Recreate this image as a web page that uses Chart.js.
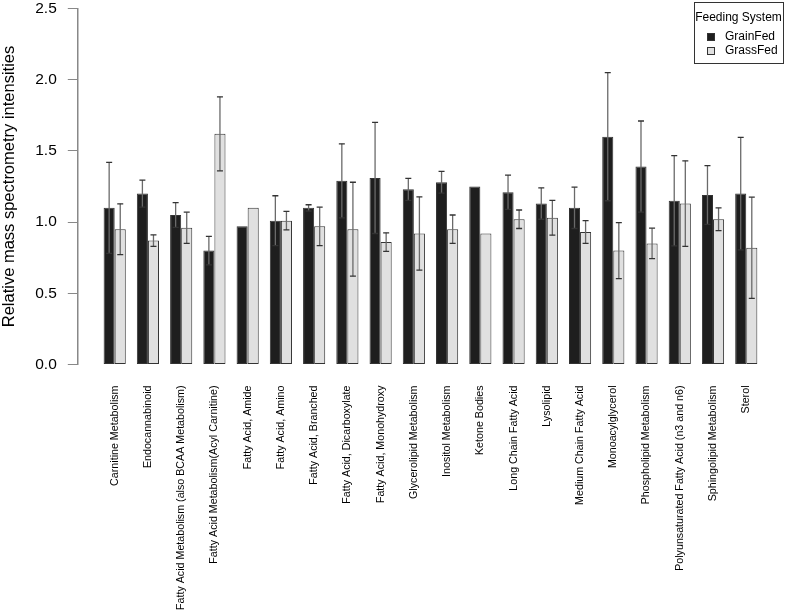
<!DOCTYPE html>
<html>
<head>
<meta charset="utf-8">
<script src="https://cdn.jsdelivr.net/npm/chart.js@4.4.1/dist/chart.umd.min.js"></script>
<style>
  html, body { margin: 0; padding: 0; background: #fff; }
  #wrap { width: 787px; height: 613px; }
</style>
</head>
<body>
<div id="wrap"><canvas id="grafico" width="787" height="613"></canvas></div>
<script>
const categorias = [
  "Carnitine Metabolism",
  "Endocannabinoid",
  "Fatty Acid Metabolism (also BCAA Metabolism)",
  "Fatty Acid Metabolism(Acyl Carnitine)",
  "Fatty Acid, Amide",
  "Fatty Acid, Amino",
  "Fatty Acid, Branched",
  "Fatty Acid, Dicarboxylate",
  "Fatty Acid, Monohydroxy",
  "Glycerolipid Metabolism",
  "Inositol Metabolism",
  "Ketone Bodies",
  "Long Chain Fatty Acid",
  "Lysolipid",
  "Medium Chain Fatty Acid",
  "Monoacylglycerol",
  "Phospholipid Metabolism",
  "Polyunsaturated Fatty Acid (n3 and n6)",
  "Sphingolipid Metabolism",
  "Sterol",
];

const grainFed = [1.10, 1.20, 1.05, 0.80, 0.97, 1.01, 1.10, 1.29, 1.31, 1.23,
                  1.28, 1.25, 1.21, 1.13, 1.10, 1.60, 1.39, 1.15, 1.19, 1.20];
const grainFedErro = [0.32, 0.095, 0.087, 0.10, null, 0.175, 0.022, 0.26, 0.39, 0.077,
                      0.076, null, 0.12, 0.11, 0.145, 0.45, 0.32, 0.317, 0.206, 0.395];

const grassFed = [0.95, 0.87, 0.96, 1.62, 1.10, 1.01, 0.97, 0.95, 0.86, 0.92,
                  0.95, 0.92, 1.02, 1.03, 0.93, 0.80, 0.85, 1.13, 1.02, 0.82];
const grassFedErro = [0.178, 0.04, 0.11, 0.26, null, 0.065, 0.135, 0.33, 0.065, 0.257,
                      0.10, null, 0.065, 0.122, 0.08, 0.197, 0.107, 0.30, 0.08, 0.355];

const yTicks = [0, 0.5, 1.0, 1.5, 2.0, 2.5];

const fonte = "'Liberation Sans', Arial, Helvetica, sans-serif";

// barras de erro (media +- erro padrao)
const pluginErro = {
  id: "barrasErro",
  afterDatasetsDraw(chart) {
    const ctx = chart.ctx;
    const y = chart.scales.y;
    chart.data.datasets.forEach((ds, di) => {
      const meta = chart.getDatasetMeta(di);
      meta.data.forEach((bar, i) => {
        const e = ds.erro[i];
        if (e == null) return;
        const v = ds.data[i].y;
        const yTop = y.getPixelForValue(v + e);
        const yBot = y.getPixelForValue(v - e);
        ctx.save();
        ctx.strokeStyle = "#6a6a6a";
        ctx.lineWidth = 1.3;
        ctx.beginPath();
        ctx.moveTo(bar.x, yTop);
        ctx.lineTo(bar.x, yBot);
        ctx.stroke();
        ctx.strokeStyle = "#333";
        ctx.beginPath();
        ctx.moveTo(bar.x - 3, yTop);
        ctx.lineTo(bar.x + 3, yTop);
        ctx.moveTo(bar.x - 3, yBot);
        ctx.lineTo(bar.x + 3, yBot);
        ctx.stroke();
        ctx.restore();
      });
    });
  },
};

// legenda com caixa, no canto superior direito
const pluginLegenda = {
  id: "legendaCaixa",
  afterDraw(chart) {
    const ctx = chart.ctx;
    const x0 = 694, y0 = 2, w = 89, h = 61;
    ctx.save();
    ctx.fillStyle = "#fff";
    ctx.fillRect(x0, y0, w, h);
    ctx.strokeStyle = "#333";
    ctx.lineWidth = 1;
    ctx.strokeRect(x0 + 0.5, y0 + 0.5, w, h);
    ctx.fillStyle = "#000";
    ctx.font = "12px " + fonte;
    ctx.textBaseline = "middle";
    ctx.textAlign = "center";
    ctx.fillText("Feeding System", x0 + w / 2, 18);
    ctx.textAlign = "left";
    chart.data.datasets.forEach((ds, i) => {
      const cy = 37 + i * 14;
      ctx.fillStyle = ds.backgroundColor;
      ctx.fillRect(707, cy - 4, 8, 8);
      ctx.strokeStyle = "#333";
      ctx.strokeRect(707.5, cy - 3.5, 7, 7);
      ctx.fillStyle = "#000";
      ctx.fillText(ds.label, 725, cy);
    });
    ctx.restore();
  },
};

const ctx = document.getElementById("grafico").getContext("2d");

new Chart(ctx, {
  type: "bar",
  data: {
    datasets: [
      {
        label: "GrainFed",
        data: grainFed.map((v, i) => ({ x: i, y: v })),
        erro: grainFedErro,
        backgroundColor: "#1e1e1e",
        borderColor: "#333",
        borderWidth: 1,
        borderSkipped: false,
      },
      {
        label: "GrassFed",
        data: grassFed.map((v, i) => ({ x: i, y: v })),
        erro: grassFedErro,
        backgroundColor: "#e0e0e0",
        borderColor: "#333",
        borderWidth: 1,
        borderSkipped: false,
      },
    ],
  },
  options: {
    responsive: false,
    animation: false,
    devicePixelRatio: 1,
    categoryPercentage: 2 / 3,
    barPercentage: 1,
    layout: { padding: { left: 0, right: 10, top: 8.5, bottom: 0 } },
    plugins: {
      legend: { display: false },
      tooltip: { enabled: false },
    },
    scales: {
      x: {
        type: "linear",
        offset: false,
        min: -1.125,
        max: 19.925,
        grid: { display: false, drawTicks: false },
        border: { display: false },
        afterBuildTicks: (s) => {
          s.ticks = categorias.map((c, i) => ({ value: i }));
        },
        afterFit: (s) => {
          s.height = 248.5;
          s.paddingLeft = 0;
          s.paddingRight = 0;
        },
        ticks: {
          autoSkip: false,
          maxRotation: 90,
          minRotation: 90,
          padding: 21,
          color: "#000",
          font: { family: fonte, size: 10.7 },
          callback: (v) => categorias[v],
        },
      },
      y: {
        min: 0,
        max: 2.5,
        afterBuildTicks: (s) => {
          s.ticks = yTicks.map((v) => ({ value: v }));
        },
        afterFit: (s) => {
          s.width = 77.3;
          s.paddingTop = 0;
          s.paddingBottom = 0;
        },
        grid: {
          display: true,
          drawOnChartArea: false,
          drawTicks: true,
          tickLength: 9.5,
          color: "#888",
          lineWidth: 1,
        },
        border: { display: true, color: "#888", width: 1.5 },
        ticks: {
          padding: 11,
          color: "#000",
          font: { family: fonte, size: 15.5 },
          callback: (v) => v.toFixed(1),
        },
        title: {
          display: true,
          text: "Relative mass spectrometry intensities",
          color: "#000",
          font: { family: fonte, size: 16.5 },
          padding: 0,
        },
      },
    },
  },
  plugins: [pluginErro, pluginLegenda],
});
</script>
</body>
</html>
